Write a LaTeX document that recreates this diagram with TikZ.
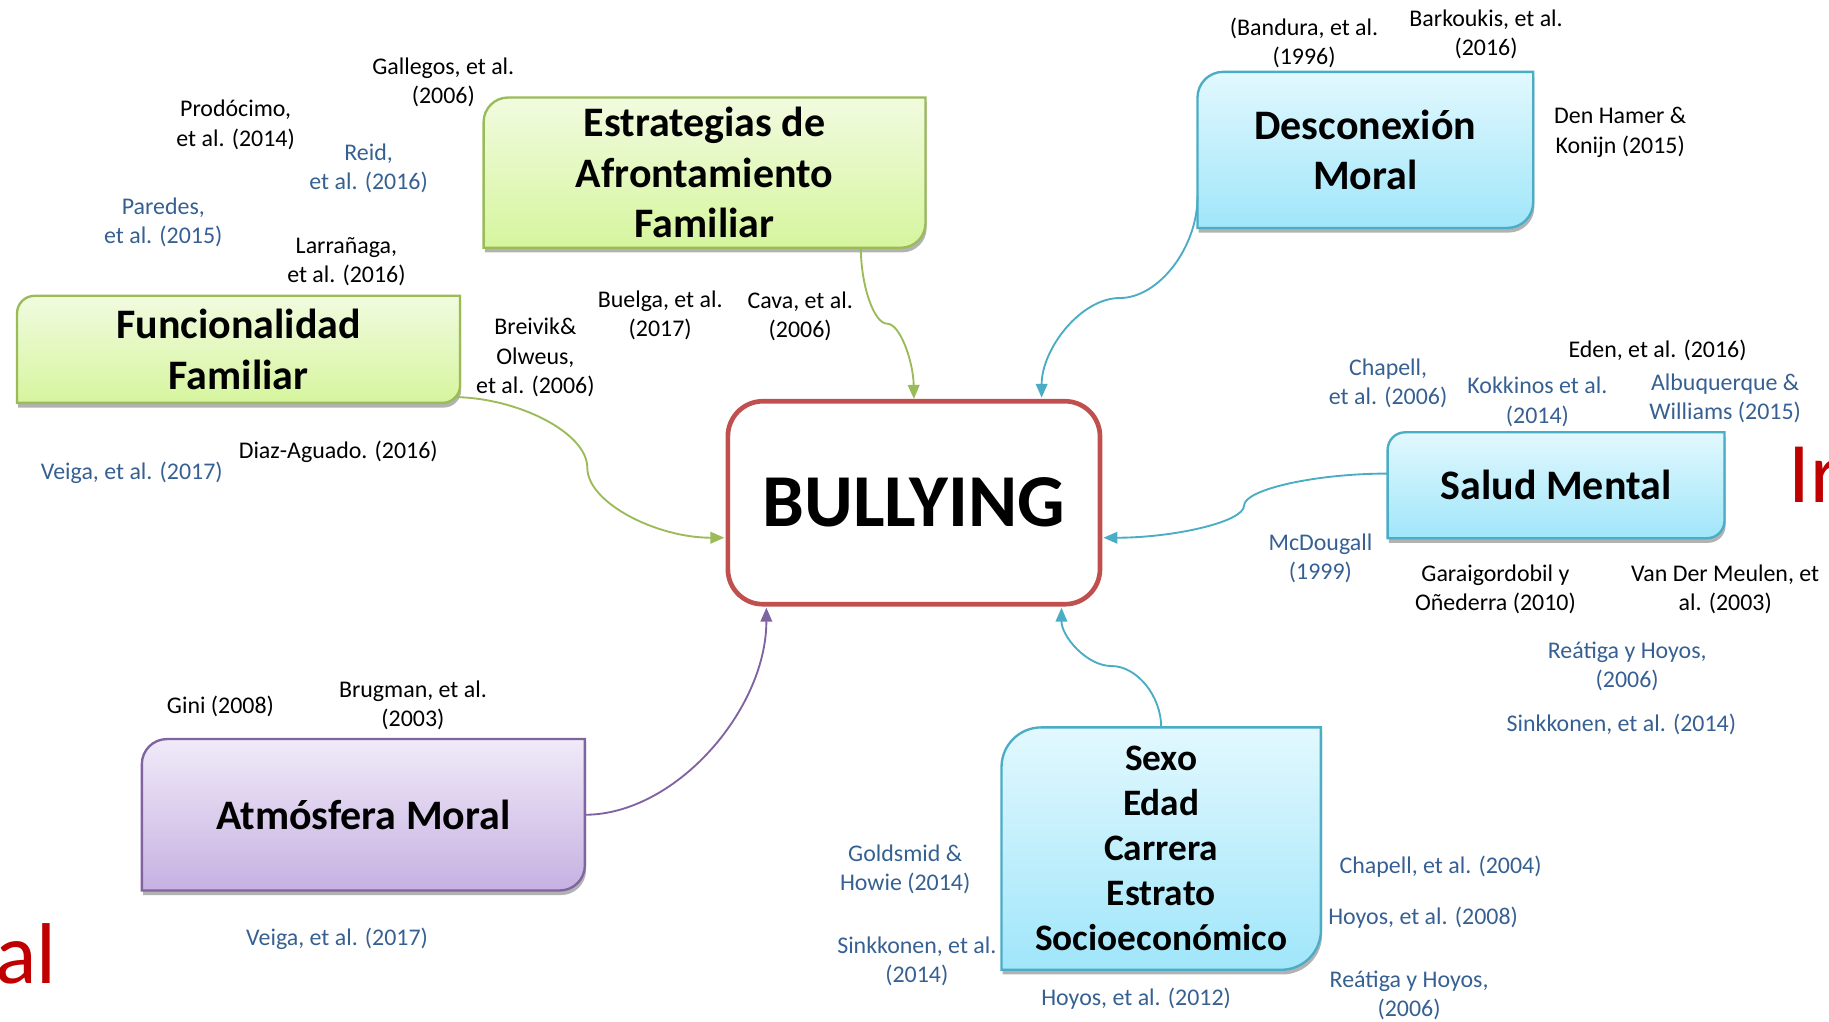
\documentclass[tikz,border=0pt]{standalone}
\usepackage{fontspec}
\setmainfont{Carlito}
\usetikzlibrary{arrows.meta,shadows,backgrounds,calc}
\definecolor{grn}{HTML}{9BBB59}
\definecolor{grnT}{HTML}{F1FBDF}
\definecolor{grnB}{HTML}{D6F59E}
\definecolor{blu}{HTML}{4BACC6}
\definecolor{bluT}{HTML}{E2F8FE}
\definecolor{bluB}{HTML}{A0E6FA}
\definecolor{pur}{HTML}{8064A2}
\definecolor{purT}{HTML}{F0EAF8}
\definecolor{purB}{HTML}{C6B1E2}
\definecolor{redB}{HTML}{C0504D}
\definecolor{refblue}{HTML}{366092}
\definecolor{dkred}{HTML}{C00000}
\newcommand\leafshape[3]{%
  \path[#3] (#1.south west) -- ($(#1.north west)+(0pt,-#2)$)
    arc[start angle=180,end angle=90,radius=#2] -- (#1.north east)
    -- ($(#1.south east)+(0pt,#2)$) arc[start angle=0,end angle=-90,radius=#2] -- cycle;}
\tikzset{
  ref/.style={font=\fontsize{10.25}{12.5}\selectfont, align=center, inner sep=0pt},
  refb/.style={ref, text=refblue},
  topic/.style={inner sep=0pt, align=center, font=\fontsize{18}{21.75}\selectfont\bfseries},
  boxshadow/.style={drop shadow={shadow xshift=0.5pt, shadow yshift=-2pt, opacity=0.3, fill=black}},
  grnbox/.style={draw=grn, line width=1pt, top color=grnT, bottom color=grnB, boxshadow},
  blubox/.style={draw=blu, line width=1pt, top color=bluT, bottom color=bluB, boxshadow},
  purbox/.style={draw=pur, line width=1pt, top color=purT, bottom color=purB, boxshadow},
  conn/.style={line width=0.8pt, -{Triangle[length=6pt,width=5pt]}},
  bigred/.style={font=\fontsize{37}{44}\selectfont, text=dkred, inner sep=0pt},
}
\begin{document}
\begin{tikzpicture}[x=0.5pt,y=0.5pt]
\useasboundingbox (0,0) rectangle (1568,-876);
\clip (0,0) rectangle (1568,-876);
% topic boxes
\node[topic, minimum width=189pt, minimum height=64pt] (estr) at (604,-148) {Estrategias de\\Afrontamiento\\Familiar};
\node[topic, minimum width=189.5pt, minimum height=45.5pt] (func) at (204.5,-299.5) {Funcionalidad\\Familiar};
\node[topic, minimum width=143.5pt, minimum height=66.5pt] (desc) at (1170.5,-128.5) {Desconexión\\Moral};
\node[topic, minimum width=144pt, minimum height=45pt] (salud) at (1334,-416) {Salud Mental};
\node[topic, font=\fontsize{16}{19.25}\selectfont\bfseries, minimum width=136.5pt, minimum height=103.5pt] (sexo) at (995.5,-727.5) {Sexo\\Edad\\Carrera\\Estrato\\Socioeconómico};
\node[topic, minimum width=189.5pt, minimum height=64.5pt] (atm) at (311.5,-698.5) {Atmósfera Moral};
\node[inner sep=0pt, minimum width=159.5pt, minimum height=87pt, draw=redB, line width=2pt, fill=white, rounded corners=15pt, font=\fontsize{32}{38}\selectfont\bfseries] (bull) at (783.5,-431) {BULLYING};
\begin{scope}[on background layer]
\leafshape{estr}{10.5pt}{grnbox}
\leafshape{func}{7.5pt}{grnbox}
\leafshape{desc}{11pt}{blubox}
\leafshape{salud}{7.5pt}{blubox}
\leafshape{sexo}{17pt}{blubox}
\leafshape{atm}{10.75pt}{purbox}
\end{scope}
% connectors
\draw[conn, grn] ([xshift=67pt]estr.south) .. controls (738,-244.75) and (749.25,-277.5) .. (760.5,-277.5) .. controls (771.75,-277.5) and (783,-310.25) .. (bull.north);
\draw[conn, grn] ([xshift=-2.5pt,yshift=2.5pt]func.south east) .. controls (444,-341) and (503.5,-371) .. (503.5,-401) .. controls (503.5,-431) and (562.75,-461) .. ([xshift=-0.5pt,yshift=-15pt]bull.west);
\draw[conn, blu] ([yshift=-19.75pt]desc.west) .. controls (1027,-211.75) and (993.5,-255.5) .. (960,-255.5) .. controls (926.5,-255.5) and (893,-299.25) .. ([xshift=54.75pt,yshift=0.5pt]bull.north);
\draw[conn, blu] ([yshift=5pt]salud.west) .. controls (1127.25,-406) and (1066.5,-419.75) .. (1066.5,-433.5) .. controls (1066.5,-447.5) and (1005.75,-461) .. ([xshift=0.5pt,yshift=-15pt]bull.east);
\draw[conn, blu] (sexo.north) .. controls (995.5,-596.5) and (974.5,-571) .. (953,-571) .. controls (931.5,-571) and (910,-545.5) .. ([xshift=63.25pt,yshift=-0.5pt]bull.south);
\draw[conn, pur] (atm.east) .. controls (579,-698.5) and (657,-608.5) .. ([xshift=-63.25pt,yshift=-0.5pt]bull.south);
\begin{scope}[yshift=-1pt]
% references (black)
\node[ref] (t1) at (380,-68.5) {Gallegos, et al.\\(2006)};
\node[ref] (t2) at (202,-105) {Prodócimo,\\et al. (2014)};
\node[ref] (t5) at (297,-222) {Larrañaga,\\et al. (2016)};
\node[ref] (t6) at (459,-304.5) {Breivik\&\\Olweus,\\et al. (2006)};
\node[ref] (t7) at (566,-268.5) {Buelga, et al.\\(2017)};
\node[ref] (t8) at (686,-269.5) {Cava, et al.\\(2006)};
\node[ref] (t9) at (290,-385) {Diaz-Aguado. (2016)};
\node[ref] (t11) at (189,-604) {Gini (2008)};
\node[ref] (t12) at (354,-602.5) {Brugman, et al.\\(2003)};
\node[ref] (t14) at (1118,-34.5) {(Bandura, et al.\\(1996)};
\node[ref] (t15) at (1274,-27.5) {Barkoukis, et al.\\(2016)};
\node[ref] (t16) at (1389,-111.5) {Den Hamer \&\\Konijn (2015)};
\node[ref] (t17) at (1421,-298) {Eden, et al. (2016)};
\node[ref] (t22) at (1282,-503) {Garaigordobil y\\Oñederra (2010)};
\node[ref] (t23) at (1479,-503.5) {Van Der Meulen, et\\al. (2003)};
% references (blue)
\node[refb] (t3) at (316,-142.5) {Reid,\\et al. (2016)};
\node[refb] (t4) at (140,-188.5) {Paredes,\\et al. (2015)};
\node[refb] (t10) at (113,-403) {Veiga, et al. (2017)};
\node[refb] (t13) at (289,-803) {Veiga, et al. (2017)};
\node[refb] (t18) at (1190,-326.5) {Chapell,\\et al. (2006)};
\node[refb] (t19) at (1318,-342.5) {Kokkinos et al.\\(2014)};
\node[refb] (t20) at (1479,-339.5) {Albuquerque \&\\Williams (2015)};
\node[refb] (t21) at (1132,-476.5) {McDougall\\(1999)};
\node[refb] (t24) at (1395,-569.5) {Reátiga y Hoyos,\\(2006)};
\node[refb] (t25) at (1390,-619) {Sinkkonen, et al. (2014)};
\node[refb] (t26) at (776,-743.5) {Goldsmid \&\\Howie (2014)};
\node[refb] (t27) at (786,-822) {Sinkkonen, et al.\\(2014)};
\node[refb] (t28) at (974,-854) {Hoyos, et al. (2012)};
\node[refb] (t29) at (1235,-741) {Chapell, et al. (2004)};
\node[refb] (t30) at (1220,-785) {Hoyos, et al. (2008)};
\node[refb] (t31) at (1208,-851.5) {Reátiga y Hoyos,\\(2006)};
\end{scope}
% clipped large red words
\node[bigred, anchor=base east] (redal) at (49,-843) {al};
\node[bigred, anchor=base west] (redir) at (1533,-431) {Ir};
\end{tikzpicture}
\end{document}
